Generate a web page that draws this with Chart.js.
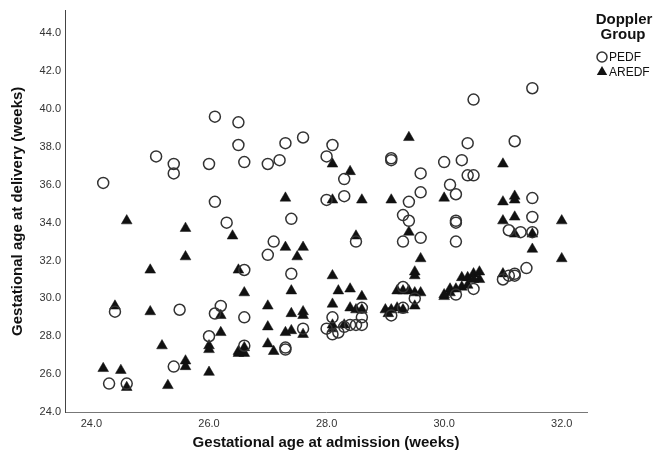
<!DOCTYPE html>
<html>
<head>
<meta charset="utf-8">
<script src="https://cdn.jsdelivr.net/npm/chart.js@4/dist/chart.umd.min.js"></script>
<style>
  html, body { margin: 0; padding: 0; background: #fff; }
  #wrap { width: 654px; height: 458px; }
</style>
</head>
<body>
<div id="wrap"><canvas id="chart" width="654" height="458"></canvas></div>
<script>
// Gestational age at admission (x) vs at delivery (y), weeks
const pedfX = [24.2, 24.4, 24.3, 24.6, 25.1, 25.4, 25.4, 25.5, 25.4, 26.0, 26.1, 26.1, 26.3, 26.5, 26.5, 26.6, 26.6, 26.2, 26.1, 26.0,
  26.6, 26.6, 27.0, 27.2, 27.3, 27.6, 27.1, 27.0, 27.4, 27.4, 27.3, 27.3, 27.6, 28.0, 28.1, 28.0, 28.3, 28.3, 28.1, 28.0,
  28.1, 28.2, 28.3, 28.4, 28.5, 28.6, 28.6, 28.6, 28.5, 29.1, 29.1, 29.3, 29.4, 29.4, 29.3, 29.6, 29.6, 29.6, 29.3, 29.3,
  29.1, 29.5, 30.0, 30.1, 30.2, 30.3, 30.4, 30.4, 30.5, 30.5, 30.2, 30.2, 30.2, 30.2, 30.5, 31.0, 31.1, 31.2, 31.4, 31.1,
  31.3, 31.2, 31.5, 31.5, 31.5, 31.5, 31.2];
const pedfY = [36.1, 29.3, 25.5, 25.5, 37.5, 37.1, 36.6, 29.4, 26.4, 37.1, 39.6, 35.1, 34.0, 39.3, 38.1, 37.2, 31.5, 29.6, 29.2, 28.0,
  29.0, 27.5, 37.1, 37.3, 38.2, 38.5, 33.0, 32.3, 34.2, 31.3, 27.4, 27.3, 28.4, 37.5, 38.1, 35.2, 36.3, 35.4, 29.0, 28.4,
  28.1, 28.2, 28.5, 28.6, 28.6, 28.6, 29.0, 29.5, 33.0, 37.4, 37.3, 34.4, 34.1, 35.1, 33.0, 36.6, 35.6, 33.2, 30.6, 29.5,
  29.1, 30.0, 37.2, 36.0, 35.5, 37.3, 38.2, 36.5, 36.5, 40.5, 34.1, 34.0, 33.0, 30.2, 30.5, 31.0, 31.2, 31.2, 31.6, 33.6,
  33.5, 38.3, 41.1, 35.3, 34.3, 33.5, 31.3];

const aredfX = [24.2, 24.4, 24.5, 24.6, 24.6, 25.0, 25.0, 25.2, 25.3, 25.6, 25.6, 25.6, 25.6, 26.0, 26.0, 26.0, 26.2, 26.2, 26.4, 26.5,
  26.5, 26.5, 26.6, 26.6, 26.6, 27.0, 27.0, 27.0, 27.1, 27.3, 27.3, 27.3, 27.4, 27.4, 27.4, 27.5, 27.6, 27.6, 27.6, 27.6,
  28.1, 28.1, 28.1, 28.1, 28.1, 28.1, 28.2, 28.4, 28.4, 28.4, 28.5, 28.5, 28.6, 28.6, 28.6, 28.3, 29.0, 29.1, 29.1, 29.05,
  29.2, 29.3, 29.2, 29.3, 29.4, 29.4, 29.4, 29.5, 29.5, 29.5, 29.5, 29.6, 29.6, 30.0, 30.0, 30.1, 30.1, 30.2, 30.3, 30.3,
  30.4, 30.5, 30.5, 30.6, 30.6, 30.4, 31.0, 31.0, 31.0, 31.0, 31.2, 31.2, 31.2, 31.2, 31.5, 31.5, 32.0, 32.0, 30.0];
const aredfY = [26.3, 29.6, 26.2, 25.3, 34.1, 29.3, 31.5, 27.5, 25.4, 33.7, 32.2, 26.7, 26.4, 27.5, 27.3, 26.1, 29.1, 28.2, 33.3, 31.5,
  27.2, 27.1, 27.4, 27.1, 30.3, 29.6, 28.5, 27.6, 27.2, 35.3, 32.7, 28.2, 28.3, 29.2, 30.4, 32.2, 32.7, 29.3, 29.1, 28.1,
  37.1, 35.2, 31.2, 29.7, 28.6, 28.4, 30.4, 36.7, 30.5, 29.5, 33.3, 29.4, 35.2, 30.1, 29.4, 28.6, 29.4, 35.2, 29.4, 29.2,
  29.5, 29.4, 30.4, 30.4, 38.5, 33.5, 30.4, 31.4, 31.2, 30.3, 29.6, 32.1, 30.3, 35.3, 30.1, 30.3, 30.5, 30.5, 31.1, 30.6,
  31.1, 31.3, 31.0, 31.4, 31.0, 30.7, 37.1, 35.1, 34.1, 31.3, 35.4, 35.2, 34.3, 33.4, 33.4, 32.6, 34.1, 32.1, 30.2];

const xTicks = [24, 26, 28, 30, 32];
const yTicks = [24, 26, 28, 30, 32, 34, 36, 38, 40, 42, 44];
const groupLabels = ['PEDF', 'AREDF'];
const legendTitle = ['Doppler', 'Group'];

const toPoints = (xs, ys) => xs.map((x, i) => ({ x, y: ys[i] }));

const tickFont = { family: "'Liberation Sans', Arial, sans-serif", size: 11 };
const titleFont = { family: "'Liberation Sans', Arial, sans-serif", size: 15, weight: 'bold' };

// legend drawn at the upper right, outside the plot
const sideLegend = {
  id: 'sideLegend',
  afterDraw(chart) {
    const ctx = chart.ctx;
    ctx.save();
    ctx.fillStyle = '#111';
    ctx.textAlign = 'center';
    ctx.textBaseline = 'middle';
    ctx.font = "bold 15px 'Liberation Sans', Arial, sans-serif";
    ctx.fillText(legendTitle[0], 624, 20);
    ctx.fillText(legendTitle[1], 623, 35);

    ctx.textAlign = 'left';
    ctx.font = "12px 'Liberation Sans', Arial, sans-serif";
    chart.data.datasets.forEach((ds, i) => {
      const y = 57 + i * 15;
      const mx = 602;
      ctx.beginPath();
      if (ds.pointStyle === 'triangle') {
        const r = 6;
        ctx.moveTo(mx, y - r);
        ctx.lineTo(mx + r * 0.866, y + r / 2);
        ctx.lineTo(mx - r * 0.866, y + r / 2);
        ctx.closePath();
        ctx.fillStyle = ds.backgroundColor;
        ctx.fill();
      } else {
        ctx.arc(mx, y, 5, 0, Math.PI * 2);
        ctx.lineWidth = ds.borderWidth;
        ctx.strokeStyle = ds.borderColor;
        ctx.stroke();
      }
      ctx.fillStyle = '#111';
      ctx.fillText(ds.label, 609, y + 1);
    });
    ctx.restore();
  }
};

new Chart(document.getElementById('chart'), {
  type: 'scatter',
  data: {
    datasets: [
      {
        label: groupLabels[0],
        data: toPoints(pedfX, pedfY),
        pointStyle: 'circle',
        pointRadius: 5.5,
        borderColor: '#333',
        borderWidth: 1.5,
        backgroundColor: 'rgba(0,0,0,0)'
      },
      {
        label: groupLabels[1],
        data: toPoints(aredfX, aredfY),
        pointStyle: 'triangle',
        pointRadius: 6.2,
        borderColor: '#111',
        borderWidth: 0.5,
        backgroundColor: '#111'
      }
    ]
  },
  options: {
    responsive: false,
    animation: false,
    layout: { padding: { left: 0, right: 67, top: 7, bottom: 0 } },
    plugins: {
      legend: { display: false },
      tooltip: { enabled: false }
    },
    scales: {
      x: {
        type: 'linear',
        min: 23.55,
        max: 32.43,
        afterBuildTicks: s => { s.ticks = xTicks.map(v => ({ value: v })); },
        afterFit: s => { s.height = 46; },
        ticks: {
          color: '#333',
          font: tickFont,
          padding: 5,
          callback: v => v.toFixed(1)
        },
        grid: { display: false, drawTicks: false },
        border: { display: true, color: '#777', width: 1 },
        title: {
          display: true,
          text: 'Gestational age at admission (weeks)',
          color: '#111',
          font: titleFont,
          padding: { top: 0, bottom: 6 }
        }
      },
      y: {
        type: 'linear',
        min: 24,
        max: 45.2,
        afterBuildTicks: s => { s.ticks = yTicks.map(v => ({ value: v })); },
        afterFit: s => { s.width = 65; },
        ticks: {
          color: '#333',
          font: tickFont,
          padding: 4,
          callback: v => v.toFixed(1)
        },
        grid: { display: false, drawTicks: false },
        border: { display: true, color: '#444', width: 1 },
        title: {
          display: true,
          text: 'Gestational age at delivery (weeks)',
          color: '#111',
          font: titleFont,
          padding: { top: 9, bottom: 0 }
        }
      }
    }
  },
  plugins: [sideLegend]
});
</script>
</body>
</html>
